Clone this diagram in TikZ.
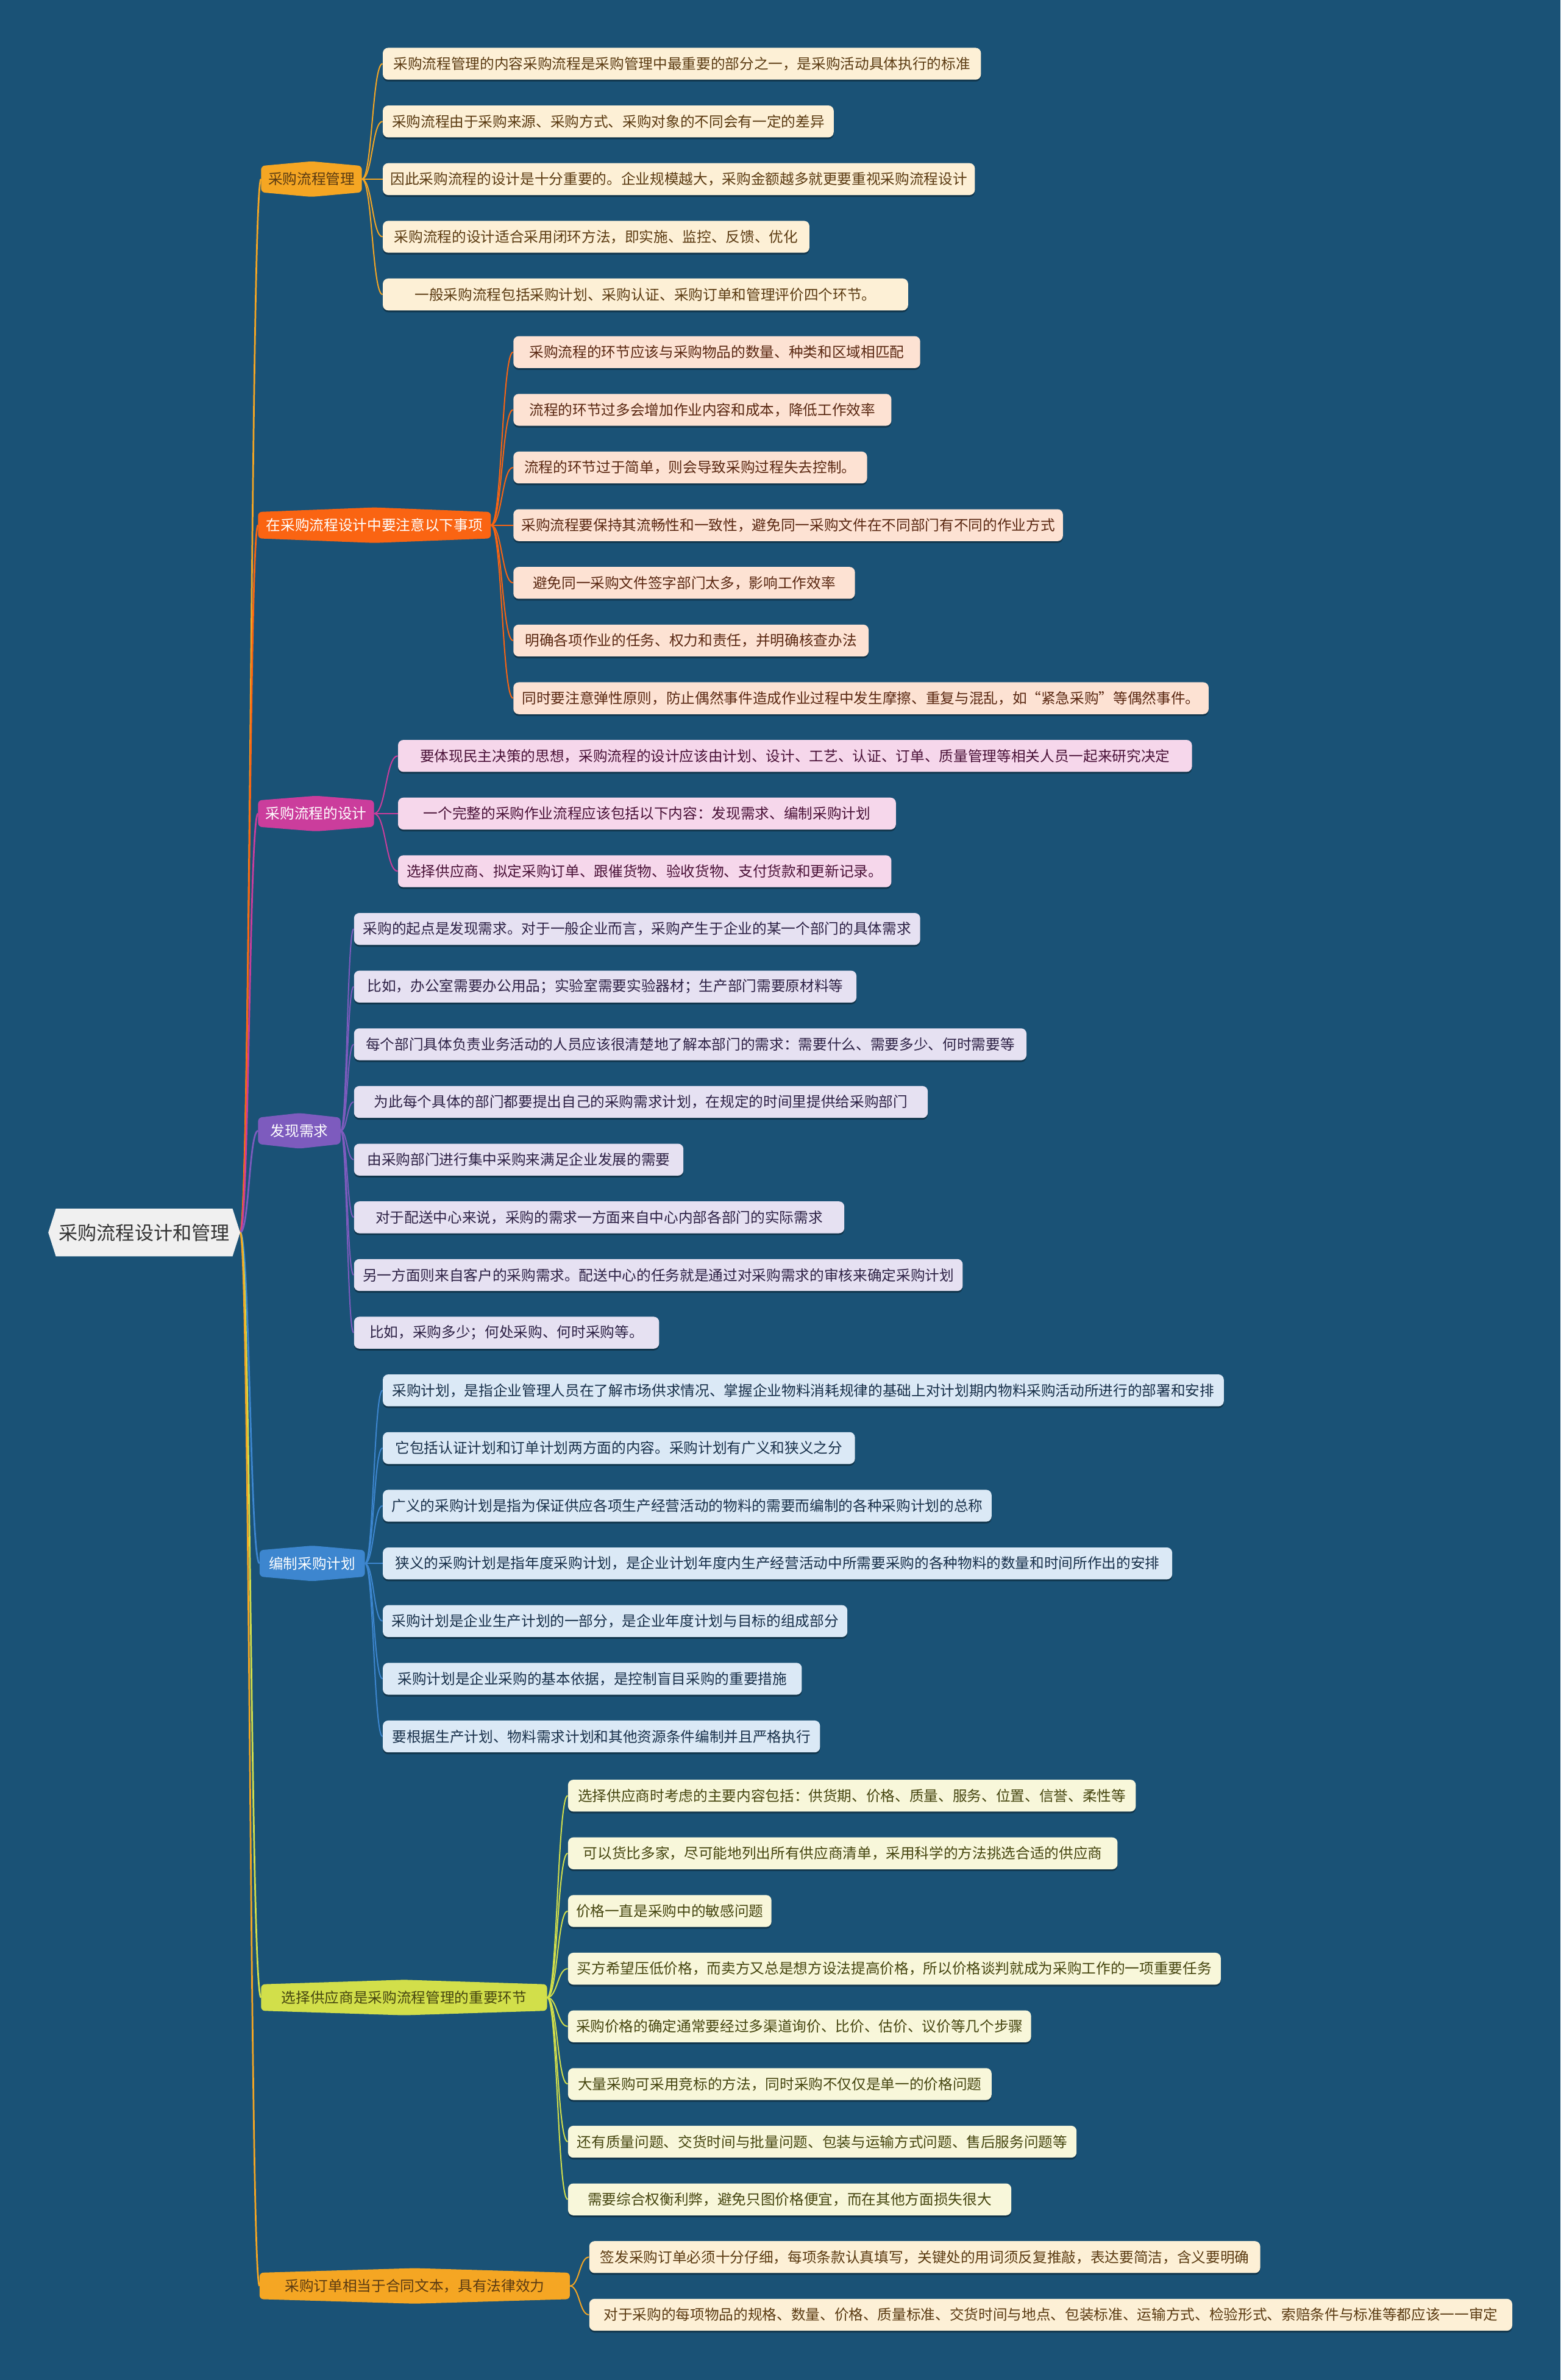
\documentclass[tikz,border=0pt]{standalone}
\usepackage{fontspec}
\setmainfont{Noto Sans CJK SC}
\usetikzlibrary{calc,shadows}
\definecolor{bgc}{HTML}{1A5276}
\definecolor{cA}{HTML}{F5A623}
\definecolor{cB}{HTML}{FA6412}
\definecolor{cC}{HTML}{CB3D9C}
\definecolor{cD}{HTML}{7D5BBE}
\definecolor{cE}{HTML}{3D86CF}
\definecolor{cF}{HTML}{D2DF4A}
\definecolor{lA}{HTML}{FDF0D6}
\definecolor{tA}{HTML}{5B3B12}
\definecolor{lB}{HTML}{FDE2D3}
\definecolor{tB}{HTML}{5A2812}
\definecolor{lC}{HTML}{F6D7EB}
\definecolor{tC}{HTML}{4A1238}
\definecolor{lD}{HTML}{E6E1F2}
\definecolor{tD}{HTML}{2D2145}
\definecolor{lE}{HTML}{DBE9F6}
\definecolor{tE}{HTML}{18304A}
\definecolor{lF}{HTML}{F8F7DA}
\definecolor{tF}{HTML}{464610}
\definecolor{rootfill}{HTML}{F0F0F0}
\definecolor{roottext}{HTML}{333333}
\pgfdeclarelayer{bglayer}
\pgfdeclarelayer{edgelayer}
\pgfdeclarelayer{shapelayer}
\pgfsetlayers{bglayer,edgelayer,shapelayer,main}
\tikzset{
  leafbox/.style={anchor=west, rounded corners=3.5pt, minimum height=21pt, inner xsep=4pt, inner ysep=0pt,
    font=\fontsize{9.5}{11}\selectfont,
    drop shadow={shadow xshift=0pt, shadow yshift=-1.2pt, opacity=0.35, fill=black}},
  leafA/.style={leafbox, fill=lA, text=tA},
  leafB/.style={leafbox, fill=lB, text=tB},
  leafC/.style={leafbox, fill=lC, text=tC},
  leafD/.style={leafbox, fill=lD, text=tD},
  leafE/.style={leafbox, fill=lE, text=tE},
  leafF/.style={leafbox, fill=lF, text=tF},
  branchtext/.style={anchor=west, minimum height=17pt, inner xsep=0pt, inner ysep=0pt,
    font=\fontsize{9.5}{11}\selectfont},
  link/.style={line width=0.8pt, to path={let \p1=(\tikztostart), \p2=(\tikztotarget) in
    .. controls ({(\x1+\x2)/2},\y1) and ({(\x1+\x2)/2},\y2) .. (\tikztotarget)}},
  mainlink/.style={link, line width=1.1pt},
}
\newcommand\brshape[2]{%
  \begin{pgfonlayer}{shapelayer}
  \fill[#2, rounded corners=2.5pt] (#1.south west) -- (#1.north west) -- ([yshift=3pt]#1.north)
     -- (#1.north east) -- (#1.south east) -- ([yshift=-3pt]#1.south) -- cycle;
  \end{pgfonlayer}}
\begin{document}
\begin{tikzpicture}[x=1pt,y=-1pt]
\useasboundingbox (0,0) rectangle (1028,1568);
\begin{pgfonlayer}{bglayer}
\fill[bgc] (0,0) rectangle (1028,1568);
\end{pgfonlayer}

% root
\node[minimum width=116pt, minimum height=31pt, inner sep=0pt, text=roottext,
  font=\fontsize{12.5}{14}\selectfont] (root) at (95,812) {采购流程设计和管理};
\begin{pgfonlayer}{shapelayer}
\fill[rootfill] (root.north west) -- (root.north east) -- ([xshift=5pt]root.east)
  -- (root.south east) -- (root.south west) -- ([xshift=-5pt]root.west) -- cycle;
\end{pgfonlayer}
\coordinate (rootTip) at ([xshift=5pt]root.east);

% branches
\node[branchtext, minimum width=66pt, text=tA] (b1) at (172,118) {采购流程管理};
\brshape{b1}{cA}
\node[branchtext, minimum width=153pt, text=white] (b2) at (170,346) {在采购流程设计中要注意以下事项};
\brshape{b2}{cB}
\node[branchtext, minimum width=76pt, text=white] (b3) at (170,536) {采购流程的设计};
\brshape{b3}{cC}
\node[branchtext, minimum width=54pt, text=white] (b4) at (170,745) {发现需求};
\brshape{b4}{cD}
\node[branchtext, minimum width=69pt, text=white] (b5) at (171,1030) {编制采购计划};
\brshape{b5}{cE}
\node[branchtext, minimum width=188pt, text=tF] (b6) at (172,1316) {选择供应商是采购流程管理的重要环节};
\brshape{b6}{cF}
\node[branchtext, minimum width=204pt, text=tA] (b7) at (171,1506) {采购订单相当于合同文本，具有法律效力};
\brshape{b7}{cA}

% leaves branch 1
\node[leafA, minimum width=394pt] (a1) at (252,42) {采购流程管理的内容采购流程是采购管理中最重要的部分之一，是采购活动具体执行的标准};
\node[leafA, minimum width=297pt] (a2) at (252,80) {采购流程由于采购来源、采购方式、采购对象的不同会有一定的差异};
\node[leafA, minimum width=390pt] (a3) at (252,118) {因此采购流程的设计是十分重要的。企业规模越大，采购金额越多就更要重视采购流程设计};
\node[leafA, minimum width=281pt] (a4) at (252,156) {采购流程的设计适合采用闭环方法，即实施、监控、反馈、优化};
\node[leafA, minimum width=346pt] (a5) at (252,194) {一般采购流程包括采购计划、采购认证、采购订单和管理评价四个环节。};

% leaves branch 2
\node[leafB, minimum width=268pt] (c1) at (338,232) {采购流程的环节应该与采购物品的数量、种类和区域相匹配};
\node[leafB, minimum width=249pt] (c2) at (338,270) {流程的环节过多会增加作业内容和成本，降低工作效率};
\node[leafB, minimum width=233pt] (c3) at (338,308) {流程的环节过于简单，则会导致采购过程失去控制。};
\node[leafB, minimum width=362pt] (c4) at (338,346) {采购流程要保持其流畅性和一致性，避免同一采购文件在不同部门有不同的作业方式};
\node[leafB, minimum width=225pt] (c5) at (338,384) {避免同一采购文件签字部门太多，影响工作效率};
\node[leafB, minimum width=234pt] (c6) at (338,422) {明确各项作业的任务、权力和责任，并明确核查办法};
\node[leafB, minimum width=458pt] (c7) at (338,460) {同时要注意弹性原则，防止偶然事件造成作业过程中发生摩擦、重复与混乱，如“紧急采购”等偶然事件。};

% leaves branch 3
\node[leafC, minimum width=523pt] (d1) at (262,498) {要体现民主决策的思想，采购流程的设计应该由计划、设计、工艺、认证、订单、质量管理等相关人员一起来研究决定};
\node[leafC, minimum width=328pt] (d2) at (262,536) {一个完整的采购作业流程应该包括以下内容：发现需求、编制采购计划};
\node[leafC, minimum width=325pt] (d3) at (262,574) {选择供应商、拟定采购订单、跟催货物、验收货物、支付货款和更新记录。};

% leaves branch 4
\node[leafD, minimum width=373pt] (e1) at (233,612) {采购的起点是发现需求。对于一般企业而言，采购产生于企业的某一个部门的具体需求};
\node[leafD, minimum width=331pt] (e2) at (233,650) {比如，办公室需要办公用品；实验室需要实验器材；生产部门需要原材料等};
\node[leafD, minimum width=443pt] (e3) at (233,688) {每个部门具体负责业务活动的人员应该很清楚地了解本部门的需求：需要什么、需要多少、何时需要等};
\node[leafD, minimum width=378pt] (e4) at (233,726) {为此每个具体的部门都要提出自己的采购需求计划，在规定的时间里提供给采购部门};
\node[leafD, minimum width=217pt] (e5) at (233,764) {由采购部门进行集中采购来满足企业发展的需要};
\node[leafD, minimum width=323pt] (e6) at (233,802) {对于配送中心来说，采购的需求一方面来自中心内部各部门的实际需求};
\node[leafD, minimum width=401pt] (e7) at (233,840) {另一方面则来自客户的采购需求。配送中心的任务就是通过对采购需求的审核来确定采购计划};
\node[leafD, minimum width=201pt] (e8) at (233,878) {比如，采购多少；何处采购、何时采购等。};

% leaves branch 5
\node[leafE, minimum width=554pt] (f1) at (252,916) {采购计划，是指企业管理人员在了解市场供求情况、掌握企业物料消耗规律的基础上对计划期内物料采购活动所进行的部署和安排};
\node[leafE, minimum width=311pt] (f2) at (252,954) {它包括认证计划和订单计划两方面的内容。采购计划有广义和狭义之分};
\node[leafE, minimum width=401pt] (f3) at (252,992) {广义的采购计划是指为保证供应各项生产经营活动的物料的需要而编制的各种采购计划的总称};
\node[leafE, minimum width=520pt] (f4) at (252,1030) {狭义的采购计划是指年度采购计划，是企业计划年度内生产经营活动中所需要采购的各种物料的数量和时间所作出的安排};
\node[leafE, minimum width=306pt] (f5) at (252,1068) {采购计划是企业生产计划的一部分，是企业年度计划与目标的组成部分};
\node[leafE, minimum width=276pt] (f6) at (252,1106) {采购计划是企业采购的基本依据，是控制盲目采购的重要措施};
\node[leafE, minimum width=288pt] (f7) at (252,1144) {要根据生产计划、物料需求计划和其他资源条件编制并且严格执行};

% leaves branch 6
\node[leafF, minimum width=374pt] (g1) at (374,1183) {选择供应商时考虑的主要内容包括：供货期、价格、质量、服务、位置、信誉、柔性等};
\node[leafF, minimum width=362pt] (g2) at (374,1221) {可以货比多家，尽可能地列出所有供应商清单，采用科学的方法挑选合适的供应商};
\node[leafF, minimum width=134pt] (g3) at (374,1259) {价格一直是采购中的敏感问题};
\node[leafF, minimum width=430pt] (g4) at (374,1297) {买方希望压低价格，而卖方又总是想方设法提高价格，所以价格谈判就成为采购工作的一项重要任务};
\node[leafF, minimum width=305pt] (g5) at (374,1335) {采购价格的确定通常要经过多渠道询价、比价、估价、议价等几个步骤};
\node[leafF, minimum width=279pt] (g6) at (374,1373) {大量采购可采用竞标的方法，同时采购不仅仅是单一的价格问题};
\node[leafF, minimum width=335pt] (g7) at (374,1411) {还有质量问题、交货时间与批量问题、包装与运输方式问题、售后服务问题等};
\node[leafF, minimum width=292pt] (g8) at (374,1449) {需要综合权衡利弊，避免只图价格便宜，而在其他方面损失很大};

% leaves branch 7
\node[leafA, minimum width=442pt] (h1) at (388,1487) {签发采购订单必须十分仔细，每项条款认真填写，关键处的用词须反复推敲，表达要简洁，含义要明确};
\node[leafA, minimum width=608pt] (h2) at (388,1525) {对于采购的每项物品的规格、数量、价格、质量标准、交货时间与地点、包装标准、运输方式、检验形式、索赔条件与标准等都应该一一审定};

% connectors
\begin{pgfonlayer}{edgelayer}
\draw[mainlink, cA] (rootTip) to (b1.west);
\draw[mainlink, cB] (rootTip) to (b2.west);
\draw[mainlink, cC] (rootTip) to (b3.west);
\draw[mainlink, cD] (rootTip) to (b4.west);
\draw[mainlink, cE] (rootTip) to (b5.west);
\draw[mainlink, cF] (rootTip) to (b6.west);
\draw[mainlink, cA] (rootTip) to (b7.west);
\foreach \l in {a1,a2,a3,a4,a5} \draw[link, cA] (b1.east) to (\l.west);
\foreach \l in {c1,c2,c3,c4,c5,c6,c7} \draw[link, cB] (b2.east) to (\l.west);
\foreach \l in {d1,d2,d3} \draw[link, cC] (b3.east) to (\l.west);
\foreach \l in {e1,e2,e3,e4,e5,e6,e7,e8} \draw[link, cD] (b4.east) to (\l.west);
\foreach \l in {f1,f2,f3,f4,f5,f6,f7} \draw[link, cE] (b5.east) to (\l.west);
\foreach \l in {g1,g2,g3,g4,g5,g6,g7,g8} \draw[link, cF] (b6.east) to (\l.west);
\foreach \l in {h1,h2} \draw[link, cA] (b7.east) to (\l.west);
\end{pgfonlayer}
\end{tikzpicture}
\end{document}
